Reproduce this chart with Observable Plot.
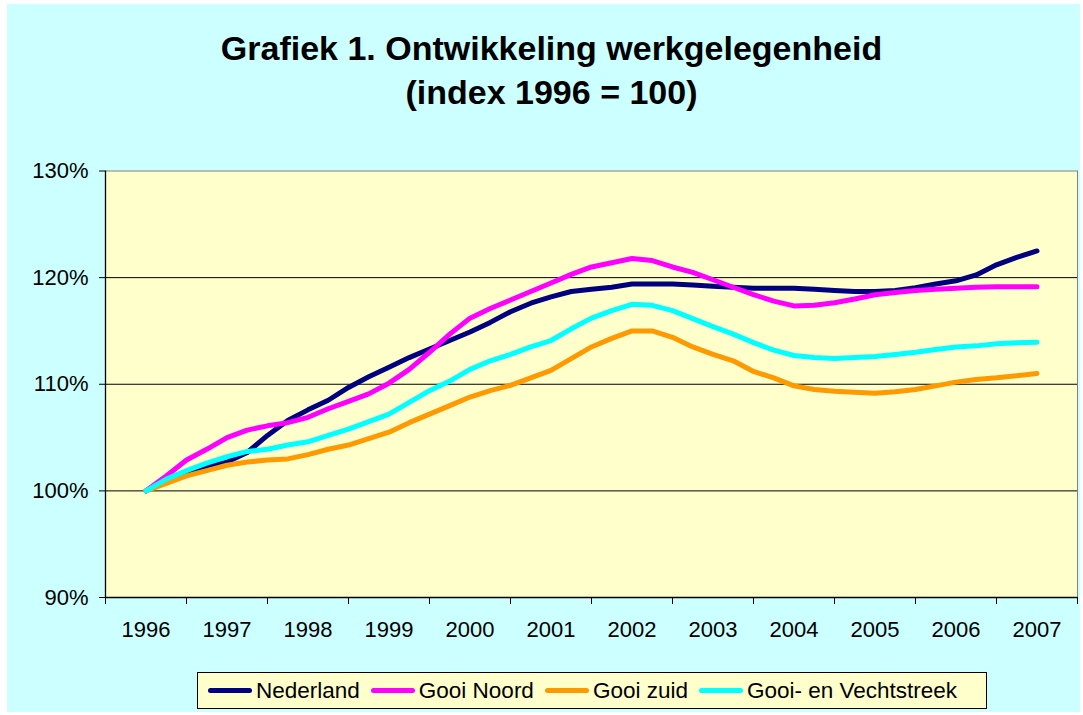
<!DOCTYPE html>
<html>
<head>
<meta charset="utf-8">
<script src="https://cdn.jsdelivr.net/npm/d3@7"></script>
<script src="https://cdn.jsdelivr.net/npm/@observablehq/plot@0.6"></script>
<style>
  html, body { margin: 0; padding: 0; background: #ffffff; width: 1083px; height: 715px; overflow: hidden; }
  #bg { position: absolute; left: 7px; top: 4px; width: 1073px; height: 708px; background: #CCFFFF; }
  #title { position: absolute; left: 0; top: 26px; width: 1083px; padding-left: 20px; box-sizing: border-box;
           text-align: center; font-family: "Liberation Sans", Arial, sans-serif; font-weight: bold;
           font-size: 34px; line-height: 44px; color: #000; }
  #chart { position: absolute; left: 0; top: 150px; }
  #legend { position: absolute; left: 197px; top: 672px; width: 790px; height: 37px; box-sizing: border-box;
            background: #FFFFCC; border: 1px solid #000; display: flex; align-items: center; justify-content: flex-start;
            padding-left: 10px; font-family: "Liberation Sans", Arial, sans-serif; font-size: 22.5px; color: #000; }
  .item { display: flex; align-items: center; margin-right: 11px; }
  .sw { width: 44px; height: 5px; border-radius: 3px; margin-right: 4px; }
</style>
</head>
<body>
<div id="bg"></div>
<div id="title">Grafiek 1. Ontwikkeling werkgelegenheid<br>(index 1996 = 100)</div>
<div id="chart"></div>
<div id="legend"></div>
<script>
const years = [1996, 1997, 1998, 1999, 2000, 2001, 2002, 2003, 2004, 2005, 2006, 2007];
const yTicks = [90, 100, 110, 120, 130];
const gridLines = [100, 110, 120];

// quarterly index values, 1996 Q1 ... 2007 Q1
const nederland = [100, 101.0, 101.8, 102.3, 102.7, 103.6, 105.2, 106.6, 107.6, 108.5, 109.7, 110.7,
  111.6, 112.5, 113.3, 114.1, 114.9, 115.8, 116.8, 117.6, 118.2, 118.7, 118.9, 119.1,
  119.4, 119.4, 119.4, 119.3, 119.2, 119.1, 119.0, 119.0, 119.0, 118.9, 118.8, 118.7,
  118.7, 118.8, 119.05, 119.4, 119.7, 120.25, 121.2, 121.9, 122.5];
const gooiNoord = [100, 101.4, 102.9, 103.9, 105.0, 105.7, 106.1, 106.4, 106.9, 107.7, 108.4, 109.1,
  110.1, 111.4, 113.0, 114.7, 116.2, 117.1, 117.9, 118.7, 119.5, 120.3, 121.0, 121.4,
  121.8, 121.6, 121.0, 120.5, 119.8, 119.1, 118.4, 117.8, 117.35, 117.4, 117.65, 118.0,
  118.4, 118.6, 118.8, 118.9, 119.0, 119.1, 119.15, 119.15, 119.15];
const gooiZuid = [100, 100.7, 101.4, 101.9, 102.4, 102.7, 102.9, 103.0, 103.4, 103.9, 104.3, 104.9,
  105.5, 106.4, 107.2, 108.0, 108.8, 109.4, 109.9, 110.6, 111.3, 112.4, 113.5, 114.3,
  115.0, 115.0, 114.4, 113.5, 112.8, 112.2, 111.2, 110.6, 109.85, 109.5, 109.35, 109.25,
  109.15, 109.3, 109.5, 109.85, 110.2, 110.45, 110.6, 110.8, 111.0];
const gooiVecht = [100, 101.1, 101.9, 102.6, 103.2, 103.7, 103.9, 104.3, 104.6, 105.2, 105.8, 106.5,
  107.2, 108.3, 109.4, 110.3, 111.4, 112.2, 112.8, 113.5, 114.1, 115.2, 116.2, 116.9,
  117.5, 117.4, 116.9, 116.15, 115.4, 114.7, 113.9, 113.2, 112.7, 112.5, 112.42, 112.5,
  112.6, 112.8, 113.0, 113.25, 113.5, 113.6, 113.8, 113.9, 113.95];

const names = ["Nederland", "Gooi Noord", "Gooi zuid", "Gooi- en Vechtstreek"];
const colors = ["#000080", "#FF00FF", "#FF9900", "#00FFFF"];
const valueLists = [nederland, gooiNoord, gooiZuid, gooiVecht];

const data = names.flatMap((name, k) =>
  valueLists[k].map((v, i) => ({ name, t: years[0] + i / 4, v })));

const boundaries = years.map(y => y - 0.5).concat([years[years.length - 1] + 0.5]);

const chart = Plot.plot({
  width: 1083,
  height: 510,
  marginLeft: 105,
  marginRight: 6,
  marginTop: 20.5,
  marginBottom: 63,
  x: { domain: [boundaries[0], boundaries[boundaries.length - 1]], label: null },
  y: { domain: [yTicks[0], yTicks[yTicks.length - 1]], label: null },
  color: { domain: names, range: colors },
  style: { fontFamily: "'Liberation Sans', Arial, sans-serif", fontSize: "22px", background: "transparent", color: "#000" },
  marks: [
    Plot.frame({ fill: "#FFFFCC", stroke: "#808080" }),
    Plot.ruleY(gridLines, { stroke: "#000", strokeWidth: 1 }),
    Plot.ruleY([yTicks[0]], { stroke: "#000", strokeWidth: 1.3 }),
    Plot.ruleX([boundaries[0]], { stroke: "#000", strokeWidth: 1.3 }),
    Plot.axisY({ ticks: yTicks, tickFormat: d => d + "%", tickSize: 6, tickPadding: 11, fontSize: 22, stroke: "#000", label: null }),
    Plot.axisX({ ticks: boundaries, tickSize: 7, tickFormat: () => "", stroke: "#000", label: null }),
    Plot.axisX({ ticks: years, tickSize: 0, tickPadding: 24, tickFormat: d => String(d), fontSize: 22, label: null }),
    Plot.line(data, { x: "t", y: "v", z: "name", stroke: "name", strokeWidth: 5,
      strokeLinejoin: "round", strokeLinecap: "round", curve: "linear" })
  ]
});
document.getElementById("chart").appendChild(chart);

const legend = document.getElementById("legend");
names.forEach((n, k) => {
  const item = document.createElement("div");
  item.className = "item";
  const sw = document.createElement("div");
  sw.className = "sw";
  sw.style.background = colors[k];
  const label = document.createElement("span");
  label.textContent = n;
  item.appendChild(sw);
  item.appendChild(label);
  legend.appendChild(item);
});
</script>
</body>
</html>
